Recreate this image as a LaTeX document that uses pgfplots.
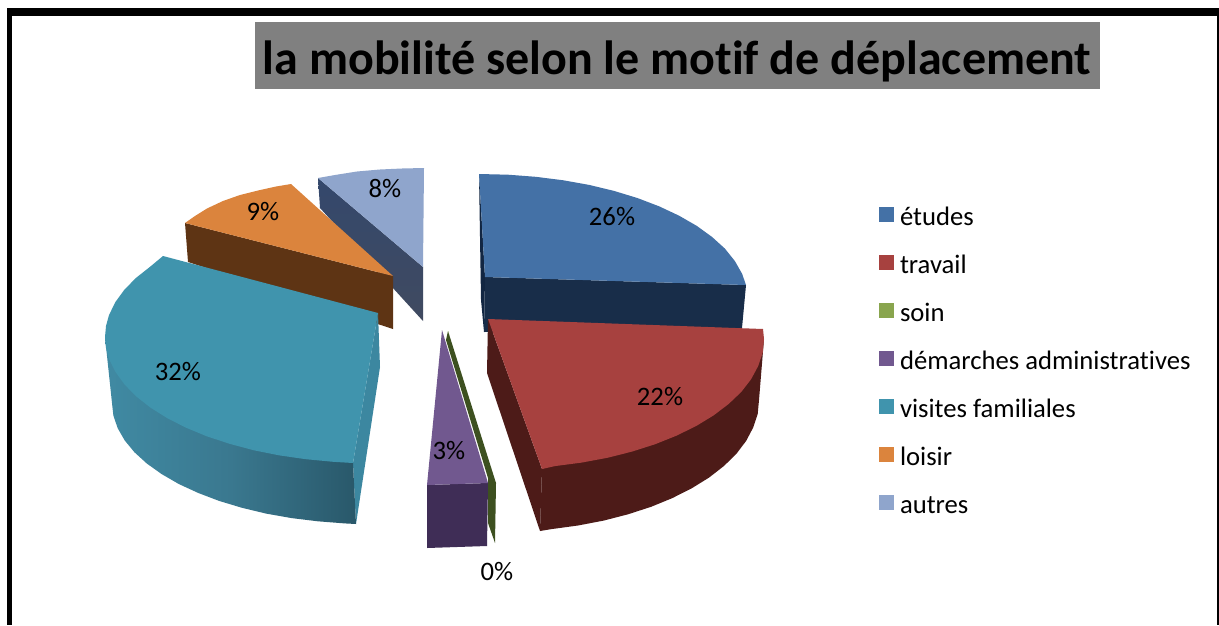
\documentclass[border=0pt]{standalone}
\usepackage{pgfplots}
\pgfplotsset{compat=1.18}
\usepackage{fontspec}
\setmainfont{Carlito}[Ligatures=CommonOff]
\definecolor{etudes}{HTML}{4471A6}
\definecolor{travail}{HTML}{A7413F}
\definecolor{soin}{HTML}{89A54E}
\definecolor{demarches}{HTML}{71588F}
\definecolor{visites}{HTML}{4094AD}
\definecolor{loisir}{HTML}{DB843D}
\definecolor{autres}{HTML}{8FA5CC}
\begin{document}
\begin{tikzpicture}
\begin{axis}[
  width=914.25pt, height=468.75pt,
  scale only axis,
  hide axis,
  xmin=0, xmax=1219, ymin=0, ymax=625,
  y dir=reverse,
  legend cell align=left,
  legend style={draw=none, fill=none, at={(axis cs:879,207)}, anchor=north west,
    font=\fontsize{20}{22}\selectfont, inner sep=0pt, outer sep=0pt, row sep=18.85pt,
    nodes={inner sep=0pt, text height=12pt, text depth=3pt},
    /tikz/column 1/.style={column sep=4.5pt}},
  legend image code/.code={\path[#1, draw=none] (0pt,-1.6pt) rectangle (11.25pt,9.65pt);},
]
% page and frame
\path[fill=white] (axis cs:0,0) rectangle (axis cs:1219,625);
\fill[black] (axis cs:6.5,8) rectangle (axis cs:12,625);
\fill[black] (axis cs:6.5,8) rectangle (axis cs:1219,16);
\fill[black] (axis cs:1217,8) rectangle (axis cs:1219,625);
\fill[gray] (axis cs:255,22) rectangle (axis cs:1100,89);
\node[font=\fontsize{36}{40}\selectfont\bfseries, anchor=center] at (axis cs:677,61) {la mobilité selon le motif de déplacement};

% sides, back to front
\addplot[forget plot, fill={rgb,255:red,18;green,38;blue,66}, draw=none] coordinates {(479,174) (485,277) (484,332) (481,300)} -- cycle;
\addplot[forget plot, fill={rgb,255:red,24;green,45;blue,73}, draw=none] coordinates {(485,277) (746,285) (742,328) (484,332)} -- cycle;
\addplot[forget plot, shade, top color={rgb,255:red,52;green,72;blue,108}, bottom color={rgb,255:red,64;green,74;blue,96}, draw=none] coordinates {(318,178) (423,267) (423,321) (320,208)} -- cycle;
\addplot[forget plot, fill={rgb,255:red,94;green,52;blue,20}, draw=none] coordinates {(185,223) (393,276) (393,329) (188,262)} -- cycle;
\addplot[forget plot, fill={rgb,255:red,60;green,135;blue,160}, draw=none] coordinates {(378,313) (380,367) (356,524) (353,463)} -- cycle;
% outer wall of the visites slice, its upper edge stays under the top face
\addplot[forget plot, shade, left color={rgb,255:red,64;green,138;blue,163}, right color={rgb,255:red,41;green,88;blue,106}, middle color={rgb,255:red,58;green,120;blue,143}, draw=none] coordinates {(105,337) (112,403) (113.4,415.7) (117.7,428.2) (124.7,440.4) (134.4,452.2) (146.8,463.5) (161.7,474.1) (178.8,484) (198.1,492.9) (219.1,500.9) (242,507.8) (266.2,513.6) (291.7,518.1) (317.9,521.3) (344.7,523.4) (356,524) (353,463) (220,380)} -- cycle;
\addplot[forget plot, fill={rgb,255:red,63;green,45;blue,86}, draw=none] coordinates {(427,485) (488,483) (487,546) (427,548)} -- cycle;
\addplot[forget plot, fill={rgb,255:red,61;green,80;blue,32}, draw=none] coordinates {(448,331) (496,483) (495,543) (488,523) (488,478) (446,340)} -- cycle;
\addplot[forget plot, fill={rgb,255:red,77;green,27;blue,24}, draw=none] coordinates {(488,319) (542,469) (540,531) (487,373)} -- cycle;
\addplot[forget plot, fill={rgb,255:red,77;green,27;blue,24}, draw=none] coordinates {(542,469) (600,440) (700,400) (764,339) (759,400) (757.7,413.9) (753.2,427.5) (746.2,440.8) (736.5,453.7) (723.9,466) (709,477.6) (691.7,488.3) (672.3,498.1) (651.1,506.8) (628,514.3) (603.6,520.6) (578,525.5) (551.5,529.1) (540,531)} -- cycle;

% tops, in legend order
\addplot[fill=etudes, draw=none] coordinates {(479,174) (508.1,174.7) (535.7,176.8) (562.8,180.2) (589.1,184.9) (614,190.9) (637.6,198.1) (659.3,206.4) (679.1,215.7) (696.8,225.9) (712.1,237) (725,248.7) (734.9,261.1) (742.1,273.8) (746,285) (485,277)} -- cycle;
\addlegendentry{études}
\addplot[fill=travail, draw=none] coordinates {(488,319) (763,329) (764,339) (762.7,352.7) (758.2,366) (751.1,379.2) (741.3,391.9) (728.6,404) (713.6,415.4) (696.2,426) (676.6,435.6) (655.2,444.2) (632,451.6) (607.4,457.8) (581.6,462.6) (554.9,466.1) (542,469)} -- cycle;
\addlegendentry{travail}
\addplot[fill=soin, draw=none] coordinates {(448,331) (448.5,333) (449,334)} -- cycle;
\addlegendentry{soin}
\addplot[fill=demarches, draw=none] coordinates {(442,330) (488,483) (427,485)} -- cycle;
\addlegendentry{démarches administratives}
\addplot[fill=visites, draw=none] coordinates {(163,256) (150.3,266.6) (136,277.9) (124.3,289.8) (115.3,302.2) (109,315.1) (106,326) (105,337) (106,348) (109,358.9) (115.3,371.7) (124.3,384.2) (136,396.2) (150.3,407.5) (167,418) (185.8,427.6) (206.8,436.3) (229.6,443.8) (253.9,450.3) (279.4,455.4) (305.9,459.2) (333.2,461.8) (353,463) (378,313)} -- cycle;
\addlegendentry{visites familiales}
\addplot[fill=loisir, draw=none] coordinates {(291,184) (276,186.5) (258,190.5) (240,195) (223,201) (207,208.5) (195,216) (185,223) (393,276)} -- cycle;
\addlegendentry{loisir}
\addplot[fill=autres, draw=none] coordinates {(318,178) (335,175) (357,171.5) (380,169.5) (402,168.5) (424,168) (423,267)} -- cycle;
\addlegendentry{autres}

% data labels
\begin{scope}[every node/.style={font=\fontsize{20}{22}\selectfont, inner sep=0pt}]
\node at (axis cs:612,217) {26\%};
\node at (axis cs:660,397) {22\%};
\node at (axis cs:497,572) {0\%};
\node at (axis cs:449,451) {3\%};
\node at (axis cs:178,372) {32\%};
\node at (axis cs:263,212) {9\%};
\node at (axis cs:385,188) {8\%};
\end{scope}
\end{axis}
\end{tikzpicture}
\end{document}
